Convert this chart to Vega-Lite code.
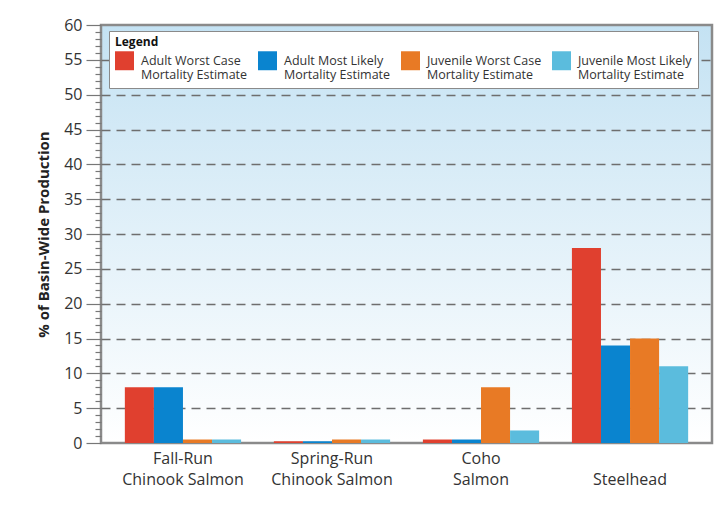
{
  "$schema": "https://vega.github.io/schema/vega-lite/v6.json",
  "width": 611,
  "height": 418,
  "autosize": "none",
  "padding": {"left": 101, "top": 25, "right": 14, "bottom": 63},
  "background": "white",
  "config": {
    "font": "Open Sans",
    "view": {
      "stroke": "#8a8a8a",
      "strokeWidth": 2.5,
      "fill": {"gradient": "linear", "x1": 0, "y1": 0, "x2": 0, "y2": 1, "stops": [{"offset": 0, "color": "#c4e2f3"}, {"offset": 1, "color": "#ffffff"}]}
    }
  },
  "data": {
    "values": [
      {"species": "Fall-Run Chinook Salmon", "estimate": "Adult Worst Case Mortality Estimate", "pct": 8},
      {"species": "Fall-Run Chinook Salmon", "estimate": "Adult Most Likely Mortality Estimate", "pct": 8},
      {"species": "Fall-Run Chinook Salmon", "estimate": "Juvenile Worst Case Mortality Estimate", "pct": 0.5},
      {"species": "Fall-Run Chinook Salmon", "estimate": "Juvenile Most Likely Mortality Estimate", "pct": 0.5},
      {"species": "Spring-Run Chinook Salmon", "estimate": "Adult Worst Case Mortality Estimate", "pct": 0.25},
      {"species": "Spring-Run Chinook Salmon", "estimate": "Adult Most Likely Mortality Estimate", "pct": 0.25},
      {"species": "Spring-Run Chinook Salmon", "estimate": "Juvenile Worst Case Mortality Estimate", "pct": 0.5},
      {"species": "Spring-Run Chinook Salmon", "estimate": "Juvenile Most Likely Mortality Estimate", "pct": 0.5},
      {"species": "Coho Salmon", "estimate": "Adult Worst Case Mortality Estimate", "pct": 0.5},
      {"species": "Coho Salmon", "estimate": "Adult Most Likely Mortality Estimate", "pct": 0.5},
      {"species": "Coho Salmon", "estimate": "Juvenile Worst Case Mortality Estimate", "pct": 8},
      {"species": "Coho Salmon", "estimate": "Juvenile Most Likely Mortality Estimate", "pct": 1.8},
      {"species": "Steelhead", "estimate": "Adult Worst Case Mortality Estimate", "pct": 28},
      {"species": "Steelhead", "estimate": "Adult Most Likely Mortality Estimate", "pct": 14},
      {"species": "Steelhead", "estimate": "Juvenile Worst Case Mortality Estimate", "pct": 15},
      {"species": "Steelhead", "estimate": "Juvenile Most Likely Mortality Estimate", "pct": 11}
    ]
  },
  "mark": {"type": "bar"},
  "encoding": {
    "x": {
      "field": "species",
      "type": "nominal",
      "sort": null,
      "scale": {"paddingInner": 0.22, "paddingOuter": 0.16},
      "axis": {
        "title": null,
        "labelAngle": 0,
        "ticks": false,
        "domain": false,
        "labelFontSize": 16,
        "labelColor": "#333333",
        "labelPadding": 7,
        "labelLineHeight": 21,
        "labelLimit": 200,
        "labelBaseline": "top",
        "labelExpr": "indexof(datum.label, ' ') > 0 ? [substring(datum.label, 0, indexof(datum.label, ' ')), substring(datum.label, indexof(datum.label, ' ') + 1)] : ['', datum.label]"
      }
    },
    "xOffset": {"field": "estimate", "type": "nominal", "sort": null},
    "y": {
      "field": "pct",
      "type": "quantitative",
      "scale": {"domain": [0, 60], "nice": false},
      "axis": {
        "title": "% of Basin-Wide Production",
        "titleFontSize": 15,
        "titleFontWeight": "bold",
        "titleColor": "#222222",
        "titlePadding": 12,
        "values": [0,1,2,3,4,5,6,7,8,9,10,11,12,13,14,15,16,17,18,19,20,21,22,23,24,25,26,27,28,29,30,31,32,33,34,35,36,37,38,39,40,41,42,43,44,45,46,47,48,49,50,51,52,53,54,55,56,57,58,59,60],
        "labelExpr": "datum.value % 5 === 0 ? datum.label : ''",
        "labelFontSize": 16,
        "labelColor": "#333333",
        "labelPadding": 4,
        "tickColor": "#777777",
        "tickWidth": 1.2,
        "tickSize": {"condition": {"test": "datum.value % 5 === 0", "value": 15}, "value": 6},
        "domain": false,
        "grid": true,
        "gridColor": "#6e6e6e",
        "gridWidth": 1.6,
        "gridDash": [9, 6],
        "gridOpacity": {"condition": {"test": "datum.value % 5 === 0 && datum.value > 0 && datum.value < 60", "value": 1}, "value": 0}
      }
    },
    "color": {
      "field": "estimate",
      "type": "nominal",
      "sort": null,
      "scale": {
        "domain": ["Adult Worst Case Mortality Estimate", "Adult Most Likely Mortality Estimate", "Juvenile Worst Case Mortality Estimate", "Juvenile Most Likely Mortality Estimate"],
        "range": ["#e0402f", "#0a84cf", "#e87a25", "#5bbcdd"]
      },
      "legend": {
        "title": "Legend",
        "titleFontSize": 12,
        "titleFontWeight": "bold",
        "titleColor": "#111111",
        "titlePadding": 2,
        "orient": "none",
        "legendX": 8,
        "legendY": 6,
        "direction": "horizontal",
        "columns": 4,
        "columnPadding": 10,
        "symbolType": "square",
        "symbolSize": 360,
        "symbolStrokeWidth": 0,
        "symbolOpacity": 1,
        "labelFontSize": 12.5,
        "labelColor": "#333333",
        "labelLimit": 200,
        "labelOffset": 7,
        "labelLineHeight": 16,
        "labelExpr": "[replace(datum.label, ' Mortality Estimate', ''), 'Mortality Estimate']",
        "fillColor": "white",
        "strokeColor": "#8a8a8a",
        "padding": 6
      }
    }
  }
}
